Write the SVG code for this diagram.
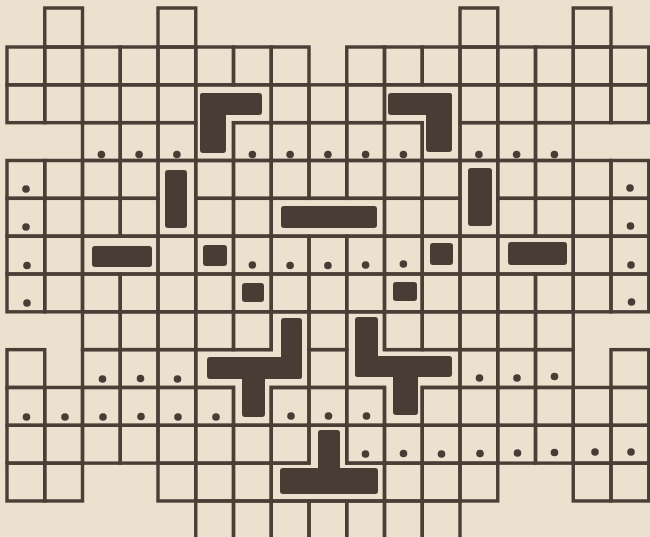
<svg xmlns="http://www.w3.org/2000/svg" xmlns:xlink="http://www.w3.org/1999/xlink" width="650" height="537" viewBox="0 0 650 537">
<style>
.c{fill:none;stroke:#4a3e36;stroke-width:3.4;stroke-linejoin:miter}
.b{fill:#483c35}
.d{fill:#483c35}
.d circle{r:3.8px}
</style>
<defs>
<rect id="k" class="c" width="37.75" height="37.83"/>
</defs>
<rect width="650" height="537" fill="#ebe1ce"/>
<g id="grid">
<g id="row0">
<rect class="c" x="44.75" y="8" width="37.75" height="39"/>
<rect class="c" x="158" y="8" width="37.75" height="39"/>
<rect class="c" x="460" y="8" width="37.75" height="39"/>
<rect class="c" x="573.25" y="8" width="37.75" height="39"/>
</g>
<g id="row1" transform="translate(0 47)">
<use href="#k" x="7"/><use href="#k" x="44.75"/><use href="#k" x="82.5"/><use href="#k" x="120.25"/><use href="#k" x="158"/><use href="#k" x="195.75"/><use href="#k" x="233.5"/><use href="#k" x="271.25"/>
<use href="#k" x="346.75"/><use href="#k" x="384.5"/><use href="#k" x="422.25"/><use href="#k" x="460"/><use href="#k" x="497.75"/><use href="#k" x="535.5"/><use href="#k" x="573.25"/><use href="#k" x="611"/>
</g>
<g id="row2" transform="translate(0 84.83)">
<use href="#k" x="7"/><use href="#k" x="44.75"/><use href="#k" x="82.5"/><use href="#k" x="120.25"/><use href="#k" x="158"/>
<use href="#k" x="271.25"/><use href="#k" x="309"/><use href="#k" x="346.75"/>
<use href="#k" x="460"/><use href="#k" x="497.75"/><use href="#k" x="535.5"/><use href="#k" x="573.25"/><use href="#k" x="611"/>
</g>
<g id="row3" transform="translate(0 122.66)">
<use href="#k" x="82.5"/><use href="#k" x="120.25"/><use href="#k" x="158"/>
<use href="#k" x="233.5"/><use href="#k" x="271.25"/><use href="#k" x="309"/><use href="#k" x="346.75"/><use href="#k" x="384.5"/>
<use href="#k" x="460"/><use href="#k" x="497.75"/><use href="#k" x="535.5"/>
</g>
<g id="row4" transform="translate(0 160.49)">
<use href="#k" x="7"/><use href="#k" x="44.75"/><use href="#k" x="82.5"/><use href="#k" x="120.25"/>
<use href="#k" x="195.75"/><use href="#k" x="233.5"/><use href="#k" x="271.25"/><use href="#k" x="309"/><use href="#k" x="346.75"/><use href="#k" x="384.5"/><use href="#k" x="422.25"/>
<use href="#k" x="497.75"/><use href="#k" x="535.5"/><use href="#k" x="573.25"/><use href="#k" x="611"/>
</g>
<g id="row5" transform="translate(0 198.32)">
<use href="#k" x="7"/><use href="#k" x="44.75"/><use href="#k" x="82.5"/><use href="#k" x="120.25"/>
<use href="#k" x="195.75"/><use href="#k" x="233.5"/>
<use href="#k" x="384.5"/><use href="#k" x="422.25"/>
<use href="#k" x="497.75"/><use href="#k" x="535.5"/><use href="#k" x="573.25"/><use href="#k" x="611"/>
</g>
<g id="row6" transform="translate(0 236.15)">
<use href="#k" x="7"/><use href="#k" x="44.75"/>
<use href="#k" x="158"/><use href="#k" x="195.75"/><use href="#k" x="233.5"/><use href="#k" x="271.25"/><use href="#k" x="309"/><use href="#k" x="346.75"/><use href="#k" x="384.5"/><use href="#k" x="422.25"/><use href="#k" x="460"/>
<use href="#k" x="573.25"/><use href="#k" x="611"/>
</g>
<g id="row7" transform="translate(0 273.98)">
<use href="#k" x="7"/><use href="#k" x="44.75"/><use href="#k" x="82.5"/><use href="#k" x="120.25"/><use href="#k" x="158"/><use href="#k" x="195.75"/><use href="#k" x="233.5"/><use href="#k" x="271.25"/><use href="#k" x="309"/><use href="#k" x="346.75"/><use href="#k" x="384.5"/><use href="#k" x="422.25"/><use href="#k" x="460"/><use href="#k" x="497.75"/><use href="#k" x="535.5"/><use href="#k" x="573.25"/><use href="#k" x="611"/>
</g>
<g id="row8" transform="translate(0 311.81)">
<use href="#k" x="82.5"/><use href="#k" x="120.25"/><use href="#k" x="158"/><use href="#k" x="195.75"/><use href="#k" x="233.5"/>
<use href="#k" x="309"/>
<use href="#k" x="384.5"/><use href="#k" x="422.25"/><use href="#k" x="460"/><use href="#k" x="497.75"/><use href="#k" x="535.5"/>
</g>
<g id="row9" transform="translate(0 349.64)">
<use href="#k" x="7"/><use href="#k" x="82.5"/><use href="#k" x="120.25"/><use href="#k" x="158"/>
<use href="#k" x="309"/>
<use href="#k" x="460"/><use href="#k" x="497.75"/><use href="#k" x="535.5"/><use href="#k" x="611"/>
</g>
<g id="row10" transform="translate(0 387.47)">
<use href="#k" x="7"/><use href="#k" x="44.75"/><use href="#k" x="82.5"/><use href="#k" x="120.25"/><use href="#k" x="158"/><use href="#k" x="195.75"/>
<use href="#k" x="271.25"/><use href="#k" x="309"/><use href="#k" x="346.75"/>
<use href="#k" x="422.25"/><use href="#k" x="460"/><use href="#k" x="497.75"/><use href="#k" x="535.5"/><use href="#k" x="573.25"/><use href="#k" x="611"/>
</g>
<g id="row11" transform="translate(0 425.3)">
<use href="#k" x="7"/><use href="#k" x="44.75"/><use href="#k" x="82.5"/><use href="#k" x="120.25"/><use href="#k" x="158"/><use href="#k" x="195.75"/><use href="#k" x="233.5"/><use href="#k" x="271.25"/>
<use href="#k" x="346.75"/><use href="#k" x="384.5"/><use href="#k" x="422.25"/><use href="#k" x="460"/><use href="#k" x="497.75"/><use href="#k" x="535.5"/><use href="#k" x="573.25"/><use href="#k" x="611"/>
</g>
<g id="row12" transform="translate(0 463.13)">
<use href="#k" x="7"/><use href="#k" x="44.75"/>
<use href="#k" x="158"/><use href="#k" x="195.75"/><use href="#k" x="233.5"/>
<use href="#k" x="384.5"/><use href="#k" x="422.25"/><use href="#k" x="460"/>
<use href="#k" x="573.25"/><use href="#k" x="611"/>
</g>
<g id="row13" transform="translate(0 500.96)">
<use href="#k" x="195.75"/><use href="#k" x="233.5"/><use href="#k" x="271.25"/><use href="#k" x="309"/><use href="#k" x="346.75"/><use href="#k" x="384.5"/><use href="#k" x="422.25"/>
</g>
</g>
<g id="merged">
<path class="c" d="M195.75 84.83H271.25V122.66H233.5V160.49H195.75Z"/>
<path class="c" d="M384.5 84.83H460V160.49H422.25V122.66H384.5Z"/>
<rect class="c" x="158" y="160.49" width="37.75" height="75.66"/>
<rect class="c" x="460" y="160.49" width="37.75" height="75.66"/>
<rect class="c" x="271.25" y="198.32" width="113.25" height="37.83"/>
<rect class="c" x="82.5" y="236.15" width="75.5" height="37.83"/>
<rect class="c" x="497.75" y="236.15" width="75.5" height="37.83"/>
<path class="c" d="M271.25 311.81H309V387.47H271.25V425.3H233.5V387.47H195.75V349.64H271.25Z"/>
<path class="c" d="M346.75 311.81H384.5V349.64H460V387.47H422.25V425.3H384.5V387.47H346.75Z"/>
<path class="c" d="M309 425.3H346.75V463.13H384.5V500.96H271.25V463.13H309Z"/>
</g>
<g id="blocks">
<g id="L-left"><rect class="b" x="200" y="93" width="62" height="22" rx="3"/><rect class="b" x="200" y="93" width="26" height="60" rx="3"/></g>
<g id="L-right"><rect class="b" x="388" y="93" width="64" height="22" rx="3"/><rect class="b" x="426" y="93" width="26" height="59" rx="3"/></g>
<rect id="bar-c4" class="b" x="165" y="170" width="22" height="58" rx="3"/>
<rect id="bar-c12" class="b" x="468" y="168" width="24" height="58" rx="3"/>
<rect id="bar-mid" class="b" x="281" y="206" width="96" height="22" rx="3"/>
<rect id="bar-left" class="b" x="92" y="246" width="60" height="21" rx="3"/>
<rect id="bar-right" class="b" x="508" y="242" width="59" height="23" rx="3"/>
<rect class="b" x="203" y="245" width="24" height="21" rx="3"/>
<rect class="b" x="430" y="243" width="23" height="22" rx="3"/>
<rect class="b" x="242" y="283" width="22" height="19" rx="3"/>
<rect class="b" x="393" y="282" width="24" height="19" rx="3"/>
<g id="T-left"><rect class="b" x="281" y="318" width="21" height="61" rx="3"/><rect class="b" x="207" y="357" width="95" height="22" rx="3"/><rect class="b" x="242" y="365" width="23" height="52" rx="3"/></g>
<g id="T-right"><rect class="b" x="355" y="317" width="23" height="60" rx="3"/><rect class="b" x="355" y="356" width="97" height="21" rx="3"/><rect class="b" x="393" y="365" width="25" height="50" rx="3"/></g>
<g id="T-bottom"><rect class="b" x="318" y="430" width="22" height="50" rx="3"/><rect class="b" x="280" y="468" width="98" height="26" rx="3"/></g>
</g>
<g id="dots" class="d">
<circle cx="101.4" cy="154.5" r="3.8"/><circle cx="139.1" cy="154.5" r="3.8"/><circle cx="176.9" cy="154.5" r="3.8"/><circle cx="252.4" cy="154.5" r="3.8"/><circle cx="290.1" cy="154.5" r="3.8"/><circle cx="327.9" cy="154.5" r="3.8"/><circle cx="365.6" cy="154.5" r="3.8"/><circle cx="403.4" cy="154.5" r="3.8"/><circle cx="478.9" cy="154.5" r="3.8"/><circle cx="516.6" cy="154.5" r="3.8"/><circle cx="554.4" cy="154.5" r="3.8"/>
<circle cx="26" cy="189" r="3.8"/><circle cx="26" cy="227" r="3.8"/><circle cx="27" cy="265.5" r="3.8"/><circle cx="27" cy="303" r="3.8"/>
<circle cx="630" cy="188" r="3.8"/><circle cx="630.5" cy="226" r="3.8"/><circle cx="631" cy="265" r="3.8"/><circle cx="631.5" cy="302" r="3.8"/>
<circle cx="252.4" cy="265" r="3.8"/><circle cx="290.1" cy="265.5" r="3.8"/><circle cx="327.9" cy="265.5" r="3.8"/><circle cx="365.6" cy="265" r="3.8"/><circle cx="403.4" cy="264" r="3.8"/>
<circle cx="102.5" cy="379" r="3.8"/><circle cx="140.5" cy="378.5" r="3.8"/><circle cx="177.5" cy="379" r="3.8"/><circle cx="479.5" cy="378" r="3.8"/><circle cx="517" cy="378" r="3.8"/><circle cx="554.5" cy="376.5" r="3.8"/>
<circle cx="26.5" cy="417" r="3.8"/><circle cx="65" cy="417" r="3.8"/><circle cx="103" cy="417" r="3.8"/><circle cx="141" cy="416.5" r="3.8"/><circle cx="178" cy="417" r="3.8"/><circle cx="216" cy="417" r="3.8"/><circle cx="291" cy="416" r="3.8"/><circle cx="328.5" cy="416" r="3.8"/><circle cx="366.5" cy="416" r="3.8"/>
<circle cx="365.5" cy="454" r="3.8"/><circle cx="403.5" cy="453.5" r="3.8"/><circle cx="441.5" cy="454" r="3.8"/><circle cx="480" cy="453.5" r="3.8"/><circle cx="517.5" cy="453" r="3.8"/><circle cx="554.5" cy="452.5" r="3.8"/><circle cx="595" cy="452" r="3.8"/><circle cx="631" cy="452" r="3.8"/>
</g>
</svg>
